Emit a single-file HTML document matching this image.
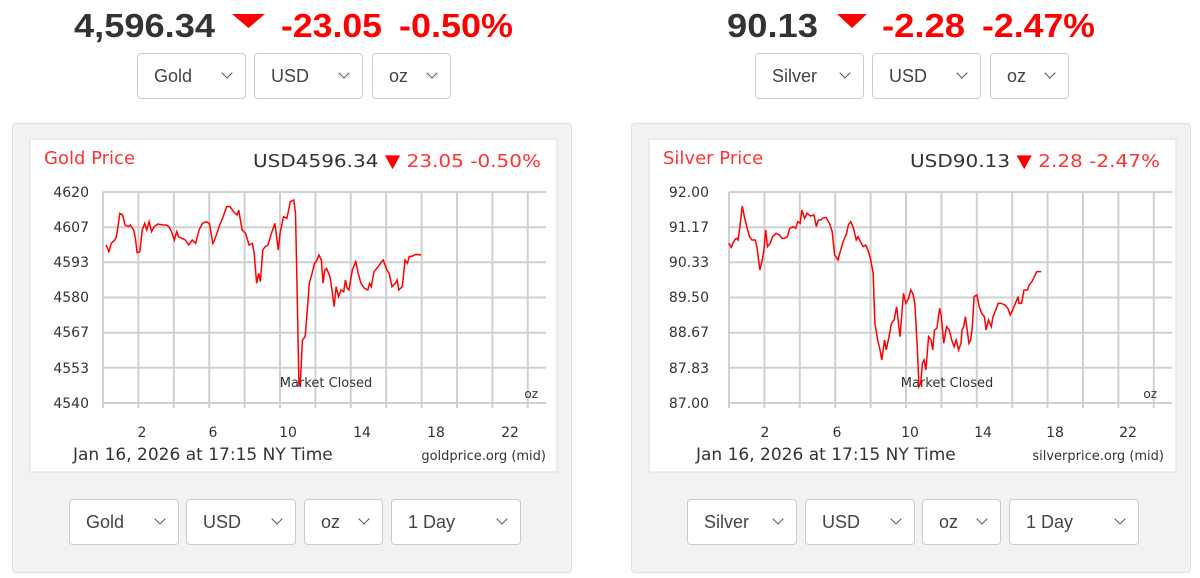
<!DOCTYPE html>
<html><head><meta charset="utf-8"><style>
body{margin:0;width:1200px;height:578px;background:#fff;position:relative;overflow:hidden;font-family:"Liberation Sans","DejaVu Sans",sans-serif}
.panel{position:absolute;top:123px;width:560px;height:450px;background:#f2f2f2;border:1px solid #e0e0e0;border-radius:4px;box-sizing:border-box}
.sel{position:absolute;height:46px;border:1px solid #ccc;border-radius:4px;background:#fff;box-sizing:border-box;font-size:18px;color:#444;line-height:44px;padding-left:16px}
.sel:after{content:"";position:absolute;right:14px;top:15px;width:7px;height:7px;border-right:1.5px solid #555;border-bottom:1.5px solid #555;transform:rotate(45deg)}
svg{position:absolute;left:0;top:0}
</style></head><body>
<div class="panel" style="left:12px"></div>
<div class="panel" style="left:631px"></div>

<div class="sel" style="left:137px;top:53px;width:109px">Gold</div>
<div class="sel" style="left:254px;top:53px;width:109px">USD</div>
<div class="sel" style="left:372px;top:53px;width:79px">oz</div>
<div class="sel" style="left:755px;top:53px;width:109px">Silver</div>
<div class="sel" style="left:872px;top:53px;width:109px">USD</div>
<div class="sel" style="left:990px;top:53px;width:79px">oz</div>

<div class="sel" style="left:69px;top:499px;width:110px">Gold</div>
<div class="sel" style="left:186px;top:499px;width:110px">USD</div>
<div class="sel" style="left:304px;top:499px;width:79px">oz</div>
<div class="sel" style="left:391px;top:499px;width:130px">1 Day</div>
<div class="sel" style="left:687px;top:499px;width:110px">Silver</div>
<div class="sel" style="left:805px;top:499px;width:110px">USD</div>
<div class="sel" style="left:922px;top:499px;width:79px">oz</div>
<div class="sel" style="left:1009px;top:499px;width:130px">1 Day</div>

<svg width="1200" height="578" viewBox="0 0 1200 578" font-family="'DejaVu Sans',sans-serif">
<defs>
<g id="grid" stroke="#d0d0d0" stroke-width="2" fill="none">
<path d="M0 0H443M0 35.2H443M0 70.3H443M0 105.5H443M0 140.7H443M0 175.8H443M0 211H443"/>
<path d="M0 0V216M35.4 0V216M70.8 0V216M106.2 0V216M141.6 0V216M177 0V216M212.4 0V216M247.8 0V216M283.2 0V216M318.6 0V216M354 0V216M389.4 0V216M424.8 0V216"/>
</g>
</defs>

<g font-family="'Liberation Sans',sans-serif" font-weight="bold" font-size="33">
<text x="74" y="37" fill="#333" textLength="141" lengthAdjust="spacingAndGlyphs">4,596.34</text>
<polygon points="232,14 265,14 248.5,28" fill="#f00"/>
<text x="281" y="37" fill="#f00" textLength="101" lengthAdjust="spacingAndGlyphs">-23.05</text>
<text x="399" y="37" fill="#f00" textLength="114" lengthAdjust="spacingAndGlyphs">-0.50%</text>
<text x="727" y="37" fill="#333" textLength="91" lengthAdjust="spacingAndGlyphs">90.13</text>
<polygon points="837,14 867,14 852,28" fill="#f00"/>
<text x="882" y="37" fill="#f00" textLength="83" lengthAdjust="spacingAndGlyphs">-2.28</text>
<text x="982" y="37" fill="#f00" textLength="113" lengthAdjust="spacingAndGlyphs">-2.47%</text>
</g>

<!-- GOLD -->
<rect x="30" y="139" width="527" height="333" fill="#fff" stroke="#ddd"/>
<use href="#grid" x="103" y="192"/>
<text x="44" y="164" font-size="18" fill="#f33">Gold Price</text>
<text x="253" y="167" font-size="18" textLength="288" lengthAdjust="spacingAndGlyphs"><tspan fill="#333">USD4596.34</tspan><tspan fill="#f00"> &#9660; </tspan><tspan fill="#f33">23.05 -0.50%</tspan></text>
<g font-size="14" fill="#333" text-anchor="end">
<text x="89" y="197">4620</text><text x="89" y="232">4607</text><text x="89" y="267">4593</text><text x="89" y="302">4580</text><text x="89" y="337">4567</text><text x="89" y="373">4553</text><text x="89" y="408">4540</text>
</g>
<g font-size="14" fill="#333" text-anchor="middle">
<text x="142" y="437">2</text><text x="213" y="437">6</text><text x="288" y="437">10</text><text x="362" y="437">14</text><text x="436" y="437">18</text><text x="510" y="437">22</text>
</g>
<text x="73" y="460" font-size="17" fill="#333">Jan 16, 2026 at 17:15 NY Time</text>
<text x="546" y="460" font-size="13" fill="#333" text-anchor="end">goldprice.org (mid)</text>
<text x="326" y="387" font-size="13" fill="#333" text-anchor="middle">Market Closed</text>
<text x="538" y="398" font-size="12" fill="#333" text-anchor="end">oz</text>
<g transform="translate(20,130) scale(0.3444,0.3333)">
<polyline vector-effect="non-scaling-stroke" fill="none" stroke="#f00" stroke-width="1.5" points="250,345 258,365 265,340 275,330 280,320 290,250 298,255 305,285 315,290 320,285 330,300 335,325 340,368 348,365 355,300 362,280 368,300 375,275 382,305 390,290 400,282 415,285 425,285 432,290 440,305 448,330 455,305 460,320 470,325 480,330 490,345 500,330 510,340 520,300 530,280 540,275 550,280 560,340 565,330 580,285 590,260 600,230 610,230 620,245 630,255 635,240 645,300 655,310 665,345 675,340 680,370 687,460 693,430 698,455 705,360 712,350 720,345 730,310 740,280 745,320 750,360 755,310 765,260 775,265 785,215 795,210 800,250 805,500 810,770 815,740 820,630 828,620 835,530 840,460 848,430 855,400 860,395 868,375 875,390 880,460 885,420 890,415 900,440 906,480 912,530 918,470 925,500 932,480 940,485 945,450 950,475 955,480 965,420 975,395 982,430 990,460 1000,475 1010,480 1015,460 1020,470 1028,425 1040,410 1050,395 1055,390 1065,420 1072,430 1080,470 1090,460 1095,450 1100,480 1110,470 1118,390 1125,400 1130,380 1140,378 1150,373 1165,375"/>
</g>

<!-- SILVER -->
<rect x="649" y="139" width="527" height="333" fill="#fff" stroke="#ddd"/>
<use href="#grid" x="729" y="192"/>
<text x="663" y="164" font-size="18" fill="#f33">Silver Price</text>
<text x="910" y="167" font-size="18" textLength="250" lengthAdjust="spacingAndGlyphs"><tspan fill="#333">USD90.13</tspan><tspan fill="#f00"> &#9660; </tspan><tspan fill="#f33">2.28 -2.47%</tspan></text>
<g font-size="14" fill="#333" text-anchor="end">
<text x="709" y="197">92.00</text><text x="709" y="232">91.17</text><text x="709" y="267">90.33</text><text x="709" y="302">89.50</text><text x="709" y="337">88.67</text><text x="709" y="373">87.83</text><text x="709" y="408">87.00</text>
</g>
<g font-size="14" fill="#333" text-anchor="middle">
<text x="765" y="437">2</text><text x="837" y="437">6</text><text x="910" y="437">10</text><text x="983" y="437">14</text><text x="1055" y="437">18</text><text x="1128" y="437">22</text>
</g>
<text x="696" y="460" font-size="17" fill="#333">Jan 16, 2026 at 17:15 NY Time</text>
<text x="1164" y="460" font-size="13" fill="#333" text-anchor="end">silverprice.org (mid)</text>
<text x="947" y="387" font-size="13" fill="#333" text-anchor="middle">Market Closed</text>
<text x="1157" y="398" font-size="12" fill="#333" text-anchor="end">oz</text>
<g transform="translate(640,130) scale(0.3444,0.3333)">
<polyline vector-effect="non-scaling-stroke" fill="none" stroke="#f00" stroke-width="1.5" points="258,340 265,352 270,340 275,330 280,325 285,330 290,290 297,228 303,260 310,290 318,320 325,330 335,330 340,355 348,420 355,390 360,360 365,300 370,350 378,340 385,320 395,310 405,315 412,325 420,325 428,320 435,295 445,290 452,295 458,275 465,280 470,240 478,265 485,250 495,258 505,255 512,290 518,270 525,270 530,265 540,262 550,280 558,305 565,375 575,390 580,370 590,335 600,310 605,285 612,275 620,295 628,330 633,320 640,335 648,350 655,345 662,360 670,390 677,430 682,580 690,630 697,660 702,690 710,630 715,660 725,610 730,580 738,570 745,530 755,620 765,490 772,520 780,505 786,480 792,490 798,520 805,650 810,770 815,760 820,700 825,690 830,720 838,620 845,630 850,660 855,600 862,595 870,535 875,560 882,640 890,590 898,600 905,630 912,650 918,630 925,660 932,640 935,600 940,590 945,560 950,600 955,640 960,630 965,590 970,500 978,495 985,530 992,550 1000,560 1005,600 1012,570 1020,590 1025,560 1033,540 1040,520 1048,520 1060,525 1068,535 1075,555 1082,540 1090,520 1098,500 1100,520 1108,520 1115,480 1125,480 1130,465 1138,455 1145,440 1152,425 1165,425"/>
</g>
</svg>
</body></html>
